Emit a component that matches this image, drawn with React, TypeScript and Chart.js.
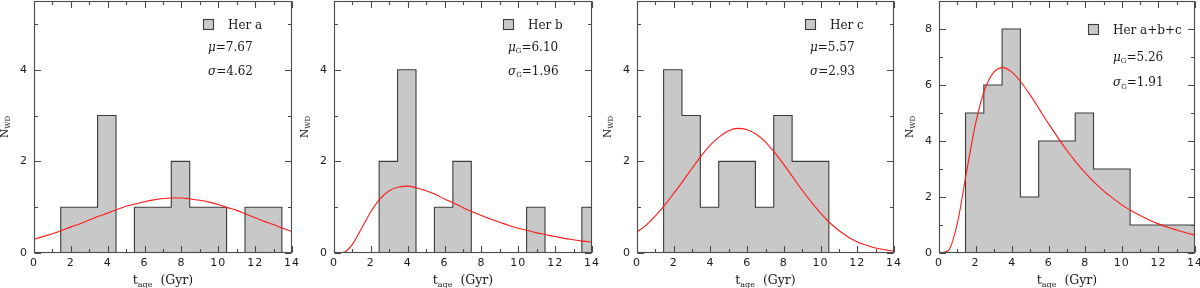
import React, { useEffect, useRef } from 'react';
import { Chart, registerables } from 'chart.js';

Chart.register(...registerables);

// ---------------- data ----------------
const binLeft = [1.45, 2.45, 3.45, 4.45, 5.45, 6.45, 7.45, 8.45, 9.45, 10.45, 11.45, 12.45, 13.45];
const binWidth = 1;

const countsHerA = [1, 1, 3, 0, 1, 1, 2, 1, 1, 0, 1, 1, 0];
const countsHerB = [0, 2, 4, 0, 1, 2, 0, 0, 0, 1, 0, 0, 1];
const countsHerC = [4, 3, 1, 2, 2, 1, 3, 2, 2, 0, 0, 0, 0];
const countsHerAll = [5, 6, 8, 2, 4, 4, 5, 3, 3, 1, 1, 1, 1];

const curveX = [0, 0.5, 1, 1.5, 2, 2.5, 3, 3.5, 4, 4.5, 5, 5.5, 6, 6.5, 7, 7.5, 8, 8.5, 9, 9.5, 10, 10.5, 11, 11.5, 12, 12.5, 13, 13.5, 14];
const fitHerA = [0.30, 0.36, 0.42, 0.49, 0.57, 0.64, 0.72, 0.80, 0.87, 0.95, 1.02, 1.07, 1.12, 1.16, 1.19, 1.20, 1.20, 1.18, 1.15, 1.11, 1.06, 0.99, 0.93, 0.85, 0.77, 0.69, 0.62, 0.54, 0.47];
const fitHerB = [0, 0.01, 0.19, 0.54, 0.90, 1.18, 1.36, 1.44, 1.46, 1.42, 1.36, 1.28, 1.18, 1.09, 0.99, 0.90, 0.82, 0.74, 0.67, 0.60, 0.54, 0.49, 0.44, 0.40, 0.36, 0.32, 0.29, 0.26, 0.24];
const fitHerC = [0.46, 0.61, 0.81, 1.04, 1.30, 1.57, 1.85, 2.12, 2.36, 2.54, 2.67, 2.72, 2.69, 2.59, 2.42, 2.19, 1.93, 1.65, 1.37, 1.11, 0.87, 0.66, 0.49, 0.35, 0.24, 0.17, 0.11, 0.07, 0.04];
const fitHerAll = [0, 0.08, 1.05, 2.87, 4.62, 5.83, 6.46, 6.62, 6.45, 6.09, 5.63, 5.12, 4.61, 4.12, 3.66, 3.24, 2.86, 2.52, 2.22, 1.96, 1.72, 1.52, 1.34, 1.18, 1.04, 0.92, 0.82, 0.72, 0.64];

const panelLabels = ['Her a', 'Her b', 'Her c', 'Her a+b+c'];
const muValues = ['7.67', '6.10', '5.57', '5.26'];
const sigmaValues = ['4.62', '1.96', '2.93', '1.91'];
const geometricFit = [false, true, false, true];

const xTickValues = [0, 2, 4, 6, 8, 10, 12, 14];
const yTickValuesSmall = [0, 2, 4];
const yTickValuesLarge = [0, 2, 4, 6, 8];
const xMin = 0;
const xMax = 14;
const yMaxSmall = 5.5;
const yMaxLarge = 9;

const allCounts = [countsHerA, countsHerB, countsHerC, countsHerAll];
const allFits = [fitHerA, fitHerB, fitHerC, fitHerAll];

// ---------------- layout / style ----------------
const panelLayout = [
  { left: 0, frameW: 258, rightPad: 8, yMax: yMaxSmall, yTicks: yTickValuesSmall },
  { left: 300, frameW: 258, rightPad: 8, yMax: yMaxSmall, yTicks: yTickValuesSmall },
  { left: 603, frameW: 257, rightPad: 8, yMax: yMaxSmall, yTicks: yTickValuesSmall },
  { left: 905, frameW: 256, rightPad: 5, yMax: yMaxLarge, yTicks: yTickValuesLarge },
];
const legendLayout = [
  { sqDx: -89, sqTop: 18.5, labelDx: -64, labelY: 28.5, statDx: -84, muY: 50.5, sigY: 74.5 },
  { sqDx: -89, sqTop: 18.5, labelDx: -64, labelY: 28.5, statDx: -84, muY: 50.5, sigY: 74.5 },
  { sqDx: -89, sqTop: 18.5, labelDx: -64, labelY: 28.5, statDx: -84, muY: 50.5, sigY: 74.5 },
  { sqDx: -107, sqTop: 24.3, labelDx: -82, labelY: 34, statDx: -82, muY: 60.5, sigY: 86 },
];
const Y_AXIS_W = 34;
const X_AXIS_H = 35;
const CANVAS_H = 288;
const FRAME_COLOR = '#4a4a4a';
const TEXT_COLOR = '#1a1a1a';
const BAR_FILL = 'rgb(200,200,200)';
const BAR_LINE = '#3c3c3c';
const FIT_COLOR = 'rgb(255,25,25)';
const SERIF = '"DejaVu Serif"';
const SANS = '"DejaVu Sans"';

function stepPoints(counts: number[]) {
  const pts: { x: number; y: number }[] = [{ x: binLeft[0], y: 0 }];
  counts.forEach((c, i) => pts.push({ x: binLeft[i], y: c }));
  pts.push({ x: binLeft[counts.length - 1] + binWidth, y: 0 });
  return pts;
}

type Part = { t: string; f: string; dy: number };

function drawParts(ctx: CanvasRenderingContext2D, parts: Part[], x: number, y: number) {
  let cx = x;
  for (const p of parts) {
    ctx.font = p.f;
    ctx.fillText(p.t, cx, y + p.dy);
    cx += ctx.measureText(p.t).width;
  }
  return cx;
}
function partsWidth(ctx: CanvasRenderingContext2D, parts: Part[]) {
  let w = 0;
  for (const p of parts) {
    ctx.font = p.f;
    w += ctx.measureText(p.t).width;
  }
  return w;
}

function makePlugin(idx: number) {
  const lay = panelLayout[idx];
  const leg = legendLayout[idx];
  return {
    id: 'frameText' + idx,
    beforeDraw(chart: any) {
      (chart.ctx as any).letterSpacing = '1px';
    },
    afterDatasetsDraw(chart: any) {
      const ctx: CanvasRenderingContext2D = chart.ctx;
      const { left, right, top, bottom } = chart.chartArea;
      const xs = chart.scales.x;
      const ys = chart.scales.y;
      ctx.save();
      ctx.strokeStyle = FRAME_COLOR;
      ctx.lineWidth = 1.1;
      const L = Math.round(left) + 0.5;
      const R = Math.round(right) - 0.5;
      const T = Math.round(top) + 0.5;
      const B = Math.round(bottom) - 0.5;
      ctx.beginPath();
      for (let v = xMin; v <= xMax; v++) {
        const px = Math.round(xs.getPixelForValue(v)) + 0.5;
        const len = xTickValues.includes(v) ? 6.5 : 3.5;
        ctx.moveTo(px, B);
        ctx.lineTo(px, B - len);
        ctx.moveTo(px, T);
        ctx.lineTo(px, T + len);
      }
      for (let v = 0; v < lay.yMax; v++) {
        const py = Math.round(ys.getPixelForValue(v)) + 0.5;
        const len = lay.yTicks.includes(v) ? 6.5 : 3.5;
        ctx.moveTo(L, py);
        ctx.lineTo(L + len, py);
        ctx.moveTo(R, py);
        ctx.lineTo(R - len, py);
      }
      ctx.stroke();
      ctx.strokeRect(L, T, R - L, B - T);
      ctx.restore();
    },
    afterDraw(chart: any) {
      const ctx: CanvasRenderingContext2D = chart.ctx;
      const { left, right, top, bottom } = chart.chartArea;
      ctx.save();
      (ctx as any).letterSpacing = '0px';
      ctx.fillStyle = TEXT_COLOR;
      ctx.textBaseline = 'alphabetic';
      ctx.textAlign = 'left';

      // legend box
      const sqX = Math.round(right + leg.sqDx) + 0.5;
      const sqY = Math.round(leg.sqTop) + 0.5;
      ctx.fillStyle = BAR_FILL;
      ctx.fillRect(sqX, sqY, 10, 10);
      ctx.strokeStyle = BAR_LINE;
      ctx.lineWidth = 1.1;
      ctx.strokeRect(sqX, sqY, 10, 10);
      ctx.fillStyle = TEXT_COLOR;
      ctx.font = `12px ${SERIF}`;
      ctx.fillText(panelLabels[idx], right + leg.labelDx, leg.labelY);

      // stats
      const sub = geometricFit[idx] ? [{ t: 'G', f: `7px ${SERIF}`, dy: 2.5 }] : [];
      drawParts(ctx, [{ t: 'μ', f: `italic 12px ${SERIF}`, dy: 0 }, ...sub, { t: '=' + muValues[idx], f: `12px ${SERIF}`, dy: 0 }], right + leg.statDx, leg.muY);
      drawParts(ctx, [{ t: 'σ', f: `italic 12px ${SERIF}`, dy: 0 }, ...sub, { t: '=' + sigmaValues[idx], f: `12px ${SERIF}`, dy: 0 }], right + leg.statDx, leg.sigY);

      // x title
      const xParts: Part[] = [
        { t: 't', f: `12.5px ${SERIF}`, dy: 0 },
        { t: 'age', f: `8px ${SERIF}`, dy: 3 },
        { t: '  (Gyr)', f: `12.5px ${SERIF}`, dy: 0 },
      ];
      const xw = partsWidth(ctx, xParts);
      drawParts(ctx, xParts, (left + right) / 2 - xw / 2, 284);

      // y title
      const yParts: Part[] = [
        { t: 'N', f: `10.5px ${SERIF}`, dy: 0 },
        { t: 'WD', f: `7px ${SERIF}`, dy: 2.5 },
      ];
      const yw = partsWidth(ctx, yParts);
      ctx.translate(left - 26.5, (top + bottom) / 2);
      ctx.rotate(-Math.PI / 2);
      drawParts(ctx, yParts, -yw / 2, 0);
      ctx.restore();
    },
  };
}

function Panel({ idx }: { idx: number }) {
  const ref = useRef<HTMLCanvasElement>(null);
  const lay = panelLayout[idx];
  const width = Y_AXIS_W + lay.frameW + lay.rightPad;

  useEffect(() => {
    if (!ref.current) return;
    const tickFont = { family: SANS, size: 11 };
    const chart = new Chart(ref.current, {
      type: 'line',
      data: {
        datasets: [
          {
            data: stepPoints(allCounts[idx]),
            stepped: 'before',
            fill: 'origin',
            backgroundColor: BAR_FILL,
            borderColor: BAR_LINE,
            borderWidth: 1.1,
            pointRadius: 0,
            clip: 0,
            order: 2,
          } as any,
          {
            data: curveX.map((x, i) => ({ x, y: allFits[idx][i] })),
            borderColor: FIT_COLOR,
            borderWidth: 1.1,
            fill: false,
            pointRadius: 0,
            cubicInterpolationMode: 'monotone',
            clip: 0,
            order: 1,
          } as any,
        ],
      },
      options: {
        responsive: false,
        animation: false,
        events: [],
        layout: { padding: { top: 1, right: lay.rightPad, left: 0, bottom: 0 } },
        plugins: { legend: { display: false }, tooltip: { enabled: false }, title: { display: false } },
        scales: {
          x: {
            type: 'linear',
            min: xMin,
            max: xMax,
            afterBuildTicks: (s: any) => {
              s.ticks = xTickValues.map((v) => ({ value: v }));
            },
            afterFit: (s: any) => {
              s.height = X_AXIS_H;
              s.paddingLeft = 0;
              s.paddingRight = 0;
            },
            ticks: { font: tickFont, color: TEXT_COLOR, padding: 4, maxRotation: 0, autoSkip: false, callback: (v: any) => String(v) },
            grid: { display: false, drawTicks: false },
            border: { display: false },
          },
          y: {
            type: 'linear',
            min: 0,
            max: lay.yMax,
            afterBuildTicks: (s: any) => {
              s.ticks = lay.yTicks.map((v) => ({ value: v }));
            },
            afterFit: (s: any) => {
              s.width = Y_AXIS_W;
              s.paddingTop = 0;
              s.paddingBottom = 0;
            },
            ticks: { font: tickFont, color: TEXT_COLOR, padding: 6, autoSkip: false, callback: (v: any) => String(v) },
            grid: { display: false, drawTicks: false },
            border: { display: false },
          },
        },
      } as any,
      plugins: [makePlugin(idx)],
    });
    return () => chart.destroy();
  }, [idx]);

  return (
    <canvas
      ref={ref}
      width={width}
      height={CANVAS_H}
      style={{ position: 'absolute', left: lay.left, top: 0, width, height: CANVAS_H, display: 'block' }}
    />
  );
}

export default function App() {
  return (
    <div style={{ position: 'fixed', left: 0, top: 0, width: 1200, height: 288, overflow: 'hidden', background: '#ffffff' }}>
      {panelLayout.map((_, i) => (
        <Panel key={i} idx={i} />
      ))}
    </div>
  );
}
